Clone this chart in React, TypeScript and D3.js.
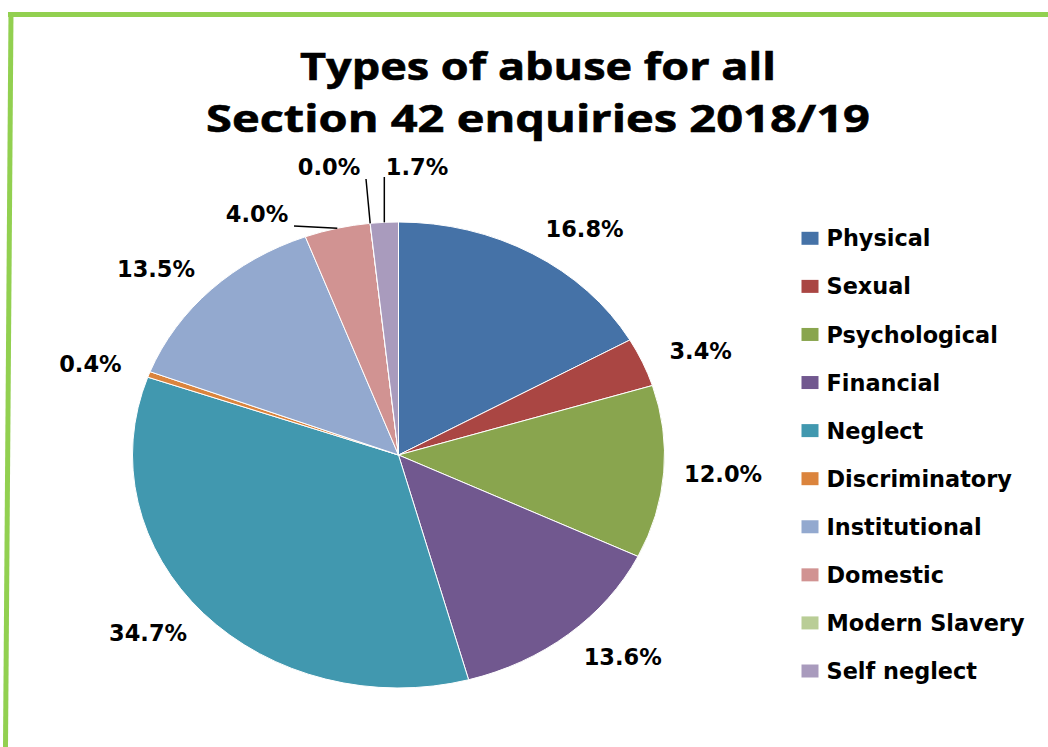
import React from "react";
import * as d3 from "d3";

const categories = [
  "Physical",
  "Sexual",
  "Psychological",
  "Financial",
  "Neglect",
  "Discriminatory",
  "Institutional",
  "Domestic",
  "Modern Slavery",
  "Self neglect",
];
const values = [16.8, 3.4, 12.0, 13.6, 34.7, 0.4, 13.5, 4.0, 0.0, 1.7];
const colors = [
  "#4572A7",
  "#AA4643",
  "#89A54E",
  "#71588F",
  "#4198AF",
  "#DB843D",
  "#93A9CF",
  "#D19392",
  "#B9CD96",
  "#A99BBD",
];
const titleLines = ["Types of abuse for all", "Section 42 enquiries 2018/19"];

// Labels that the original chart moved by hand (with leader lines)
const movedLabels: Record<string, [number, number]> = {
  Domestic: [257, 214],
  "Modern Slavery": [329, 167],
  "Self neglect": [417, 167],
};

const W = 1048;
const H = 747;
const cx = 398.5;
const cy = 455;
const rx = 266;
const ry = 233;

export default function App() {
  const pie = d3
    .pie<number>()
    .sort(null)
    .value((d) => d)
    .startAngle(0)
    .endAngle(2 * Math.PI);
  const arcs = pie(values);
  const arc = d3.arc<d3.PieArcDatum<number>>().innerRadius(0).outerRadius(ry);
  const fmt = (v: number) => d3.format(".1f")(v) + "%";

  const legendY = d3
    .scaleLinear()
    .domain([0, categories.length - 1])
    .range([238.3, 671]);

  const labelFont = { fontFamily: "'DejaVu Sans', Verdana, sans-serif", fontWeight: 700, fontSize: 22.5 };

  return (
    <svg
      width={W}
      height={H}
      style={{ position: "absolute", left: 0, top: 0, background: "#fff" }}
    >
      <rect x={0} y={0} width={W} height={H} fill="#fff" />
      {/* green frame */}
      <line x1={8} y1={14.5} x2={W} y2={14.5} stroke="#92D050" strokeWidth={5} />
      <line x1={11} y1={12} x2={5.5} y2={H} stroke="#92D050" strokeWidth={5} />

      {/* title */}
      {titleLines.map((t, i) => (
        <text
          key={t}
          x={538}
          y={i === 0 ? 80 : 132}
          textAnchor="middle"
          textLength={i === 0 ? 476 : 664}
          lengthAdjust="spacingAndGlyphs"
          stroke="#000"
          strokeWidth={0.6}
          style={{ fontFamily: "'Open Sans', sans-serif", fontWeight: 700, fontSize: 38 }}
          fill="#000"
        >
          {t}
        </text>
      ))}

      {/* pie */}
      <g transform={`translate(${cx},${cy}) scale(${rx / ry},1)`}>
        {arcs.map((a, i) => (
          <path
            key={categories[i]}
            d={arc(a) || ""}
            fill={colors[i]}
            stroke="#fff"
            strokeWidth={1}
            vectorEffect="non-scaling-stroke"
          />
        ))}
      </g>

      {/* data labels */}
      {arcs.map((a, i) => {
        const mid = (a.startAngle + a.endAngle) / 2;
        const s = Math.sin(mid);
        const c = Math.cos(mid);
        const moved = movedLabels[categories[i]];
        let lx = cx + s * rx * 1.054 + Math.sign(s) * 45;
        let ly = cy - c * ry * 1.125;
        let leader = null as React.ReactNode;
        if (moved) {
          [lx, ly] = moved;
          const ax = cx + rx * s;
          const ay = cy - ry * c;
          const half = 37;
          const sx = Math.max(lx - half, Math.min(lx + half, ax));
          const sy = ly + (ax > lx + half ? 12 : ax < lx - half ? 12 : 10);
          leader = (
            <line x1={sx} y1={sy} x2={ax} y2={ay} stroke="#000" strokeWidth={1.5} />
          );
        }
        return (
          <g key={"l" + categories[i]}>
            {leader}
            <text x={lx} y={ly} dy="0.36em" textAnchor="middle" style={labelFont} fill="#000">
              {fmt(values[i])}
            </text>
          </g>
        );
      })}

      {/* legend */}
      {categories.map((cat, i) => (
        <g key={"lg" + cat} transform={`translate(0,${legendY(i)})`}>
          <rect x={801.5} y={-6.5} width={17} height={13} fill={colors[i]} />
          <text
            x={826.5}
            y={0}
            dy="0.36em"
            style={{ fontFamily: "'DejaVu Sans', Verdana, sans-serif", fontWeight: 700, fontSize: 22.4 }}
            fill="#000"
          >
            {cat}
          </text>
        </g>
      ))}
    </svg>
  );
}
